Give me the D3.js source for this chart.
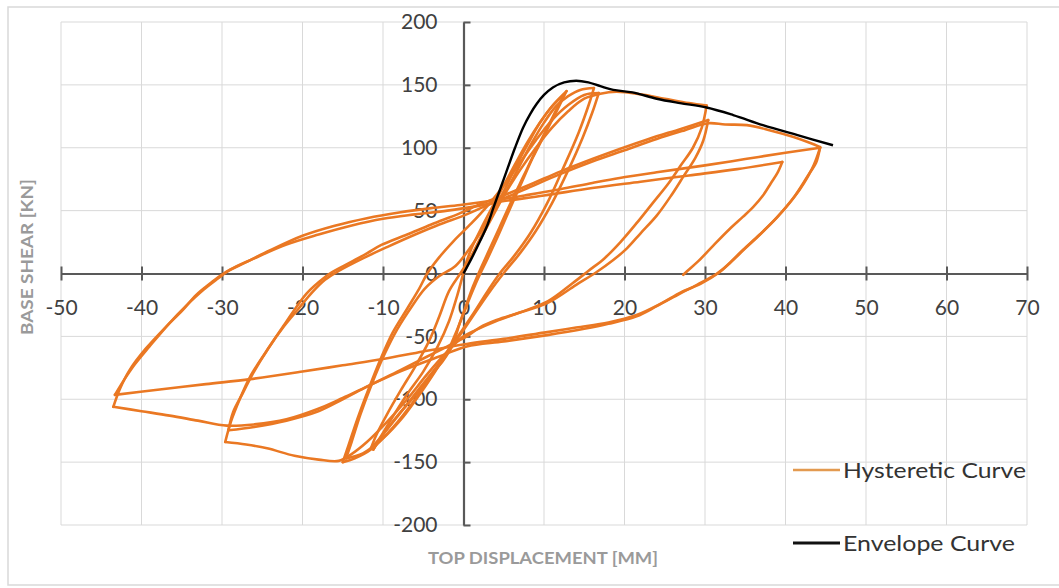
<!DOCTYPE html>
<html>
<head>
<meta charset="utf-8">
<script src="https://cdn.jsdelivr.net/npm/d3@7"></script>
<style>
  html, body { margin: 0; padding: 0; background: #fff; }
  svg { display: block; font-family: Lato, "Open Sans", sans-serif; }
</style>
</head>
<body>
<svg id="mainsvg" width="1059" height="588"></svg>
<script>
// axis ticks
const xTicks = [-50, -40, -30, -20, -10, 0, 10, 20, 30, 40, 50, 60, 70]
const yTicks = [-200, -150, -100, -50, 0, 50, 100, 150, 200]

// envelope curve [top displacement mm, base shear kN]
const envelope = [
  [0, 0], [1, 12], [2, 25], [3, 39], [3.7, 52], [5, 75], [6.4, 100], [7.4, 116], [8.3, 127],
  [9.1, 135], [10, 142], [11.1, 148], [12.5, 152], [14, 153.3], [15.5, 152], [17, 149],
  [18.6, 146], [21, 144], [24, 139], [26.9, 135.5], [30.2, 132], [33.5, 126], [37.2, 118],
  [41.5, 110], [45.9, 102]
]

// hysteretic curve, split by cycle amplitude
const cycles12 = [
  [0, 0], [1, 14], [2, 27], [3, 40], [4, 53], [5.2, 68], [6.5, 85], [8, 103], [9.5, 120], [11, 133], [12.8, 145],
  [12, 136], [10.5, 117], [9, 98], [7.5, 78], [6, 58], [4.5, 37], [3, 16], [2, 2], [1.2, -10], [0.4, -24],
  [-0.5, -40], [-1.3, -56], [-2.5, -69], [-4.2, -82], [-6, -97], [-8.3, -114], [-10, -128], [-11.2, -140],
  [-10.3, -130], [-8.8, -114], [-7, -96], [-5, -78], [-3.2, -58], [-1.8, -38], [-0.8, -18], [-0.2, -4],
  [0.3, 8], [1, 20], [2.2, 36], [3.5, 52], [5, 70], [6.5, 88], [8, 105], [9.5, 120], [11, 133], [12.6, 143],
  [11.8, 132], [10.2, 112], [8.6, 92], [7.2, 72], [5.8, 52], [4.3, 30], [3, 12], [1.8, -4], [1, -16], [0, -32],
  [-1, -48], [-2, -62], [-3.8, -78], [-5.8, -94], [-8, -112], [-10, -128], [-11.5, -139],
  [-10.8, -128], [-9.5, -112], [-7.8, -93], [-6, -74], [-4.3, -54], [-3, -34], [-1.8, -14], [-0.4, 0],
  [1, 14], [2.5, 32], [4, 50], [5.5, 68], [7, 86], [8.5, 104], [10, 120], [11.5, 133], [13, 141],
  [14.5, 146], [16.2, 147.5]
]

const cycles16 = [
  [15.6, 135], [14.3, 112], [12.4, 84], [10.4, 56], [8.3, 32], [6.3, 14], [4.5, 0], [3, -14], [1, -34],
  [-1, -53], [-3.5, -77], [-6, -100], [-8.7, -122], [-11.5, -140], [-13.5, -147], [-15, -150],
  [-14.3, -137], [-13.2, -116], [-11.8, -92], [-10.3, -68], [-8.8, -47], [-7, -28], [-5.5, -12], [-4.5, 0],
  [-3, 13], [-1.2, 26], [1, 40], [3, 54], [5, 70], [7, 88], [9, 106], [11, 122], [13, 134], [15, 142], [16.8, 143.5],
  [16, 128], [14.8, 108], [13, 82], [11, 56], [9, 34], [7, 16], [5.2, 2], [4, -8], [2, -26], [0, -45],
  [-2.5, -68], [-5, -92], [-7.5, -114], [-10, -131], [-12.5, -143], [-14.6, -147],
  [-13.9, -134], [-12.8, -112], [-11.4, -88], [-9.8, -64], [-8.2, -44], [-6.4, -26], [-4.8, -12], [-3, -2],
  [-1, 6], [1, 22], [3, 42], [5, 62], [7, 82], [9, 100], [11, 116], [13, 129], [15, 139], [17, 143]
]

const cycles30 = [
  [19, 144.5], [22, 142.5], [25, 139], [28, 135.5], [30.2, 133.5],
  [29.6, 116], [28.5, 100], [27, 86], [25.5, 72], [23.5, 56], [21.5, 40], [19.5, 25], [17.5, 12], [15.5, 2],
  [13.5, -8], [10.5, -22], [7, -31], [4, -38], [1.5, -45], [0, -50], [-2, -62], [-4.5, -80], [-7, -100],
  [-9.5, -118], [-12, -134], [-14, -144], [-15.5, -149], [-18, -148], [-21, -145], [-24.4, -139], [-27, -136], [-29.6, -134],
  [-28.9, -118], [-27.8, -100], [-26.5, -82], [-24.5, -62], [-22.4, -42], [-20.8, -27], [-19.5, -16], [-18, -7],
  [-16.6, 0], [-14, 9], [-12, 16], [-10.2, 22.7], [-7, 31], [-4, 39], [-0.4, 48], [2, 55], [3.7, 59], [8, 70],
  [12, 81], [16, 91], [19.4, 99], [23, 107], [27, 115], [30.4, 122],
  [29.8, 106], [28.8, 92], [27.4, 78], [25.8, 62], [24, 46], [22, 32], [20.3, 20], [18.6, 10.7], [16.5, 1],
  [14, -9], [10.4, -23.6], [7, -31], [4.1, -37], [2, -43], [0.4, -50], [-2, -58], [-4.5, -66], [-7.9, -77],
  [-12, -90], [-15, -100], [-18.2, -110], [-22, -117], [-26, -122], [-29.2, -124.7],
  [-28.6, -110], [-27.4, -95], [-26.2, -80], [-24.3, -60], [-22.3, -42], [-20.5, -28], [-18.8, -15], [-17.2, -5],
  [-15.5, 2], [-12.5, 12], [-9.5, 21], [-6, 31], [-3, 39], [0, 46], [2.5, 53], [4, 57], [8, 68], [12, 79],
  [16, 89], [20, 98], [24, 107], [27.5, 114], [30.4, 119.5],
  [32.5, 118.5], [35.2, 118], [38, 114], [41, 108.6], [43, 104], [44.3, 100.5]
]

const cycles44 = [
  [43.8, 88], [43, 80], [41.2, 62], [39, 45], [36.8, 31], [34.7, 18.7], [33, 8], [31.5, 0], [29, -9], [26.9, -16],
  [24, -26], [21.5, -34], [18, -40], [15, -44], [10.4, -49], [5, -54], [0.4, -58],
  [-3, -66], [-7.9, -78], [-12, -90], [-15, -99], [-18.2, -108], [-22, -116], [-26, -120], [-29.4, -121],
  [-33, -117], [-36.5, -113], [-40, -109.5], [-43.5, -106],
  [-42.7, -92], [-41.5, -77], [-39.5, -60], [-36.9, -42], [-35, -30], [-33.2, -17], [-31.5, -8], [-29.8, 0],
  [-27, 9], [-24, 18.5], [-20, 30], [-16, 38], [-12, 44], [-8, 48.5], [-4, 52], [-0.4, 54.5], [3.7, 58],
  [8, 62.5], [12, 67], [16, 72], [19.4, 76], [24, 80.5], [30, 86], [35, 91], [40, 96], [44.3, 100],
  [43.5, 86], [42.3, 72], [41, 60], [39, 45], [37, 32], [35, 20], [33.2, 9], [31.8, 1], [29.5, -8], [27, -15],
  [24.5, -24], [21.5, -33], [18, -39], [14, -43], [10, -47], [5, -52], [0.4, -56], [-5, -62], [-10, -68],
  [-15, -73], [-20, -78], [-26.5, -84], [-32, -88], [-38, -92.5], [-43.3, -96.5],
  [-42.2, -85], [-40.8, -72], [-39, -58], [-36.6, -40], [-34.5, -26], [-32.3, -13], [-30.5, -4], [-29, 3],
  [-26, 12], [-22, 23], [-18, 31], [-14, 38], [-10, 43.5], [-6, 47], [-2, 50], [2, 54], [4.5, 57], [10, 62],
  [16, 68], [22, 73], [28, 78], [34, 83], [39.6, 88.7],
  [39, 80], [38.2, 72], [37.2, 62], [36, 53], [34.7, 45], [33, 35], [31, 22], [29.2, 10], [27.8, 2], [27.3, -1]
]

const seriesNames = ['Hysteretic Curve', 'Envelope Curve']
const seriesColors = ['#EA7823', '#000000']

let width = 1059
let height = 588
let x = d3.scaleLinear().domain([-50, 70]).range([61, 1027])
let y = d3.scaleLinear().domain([-200, 200]).range([525, 22])

const svg = d3.select('#mainsvg')

// outer chart frame
svg.append('rect')
  .attr('x', 8).attr('y', 7)
  .attr('width', width).attr('height', 578)
  .attr('fill', '#fff')
  .attr('stroke', '#d9d9d9')
  .attr('stroke-width', 1.5)

// grid
const grid = svg.append('g')
grid.selectAll('.vgrid').data(xTicks).enter().append('line')
  .attr('x1', d => x(d)).attr('x2', d => x(d))
  .attr('y1', y(200)).attr('y2', y(-200))
  .attr('stroke', '#d9d9d9').attr('stroke-width', 1)
grid.selectAll('.hgrid').data(yTicks).enter().append('line')
  .attr('x1', x(-50)).attr('x2', x(70))
  .attr('y1', d => y(d)).attr('y2', d => y(d))
  .attr('stroke', '#d9d9d9').attr('stroke-width', 1)

// axes through the origin, ticks crossing the line
const xAxis = svg.append('g')
  .attr('transform', `translate(0,${y(0)})`)
  .call(d3.axisBottom(x).tickValues(xTicks).tickSize(7).tickSizeOuter(0).tickFormat(d3.format('d')))
xAxis.select('.domain').attr('stroke', '#595959').attr('stroke-width', 2.2)
xAxis.selectAll('.tick line').attr('y1', -7).attr('stroke', '#595959').attr('stroke-width', 2)
xAxis.selectAll('.tick text')
  .attr('y', 34).attr('dy', '0.35em')
  .attr('fill', '#404040')
  .style('font-size', '21px').style('font-family', 'Lato, "Open Sans", sans-serif')
  .text(d => d)

const yAxis = svg.append('g')
  .attr('transform', `translate(${x(0)},0)`)
  .call(d3.axisLeft(y).tickValues(yTicks).tickSize(7).tickSizeOuter(0).tickFormat(d3.format('d')))
yAxis.select('.domain').attr('stroke', '#595959').attr('stroke-width', 2.2)
yAxis.selectAll('.tick line').attr('x2', 7).attr('stroke', '#595959').attr('stroke-width', 2)
yAxis.selectAll('.tick text')
  .attr('x', -26)
  .attr('fill', '#404040')
  .style('font-size', '21px').style('font-family', 'Lato, "Open Sans", sans-serif')
  .text(d => d)

// axis titles
svg.append('text')
  .attr('transform', 'translate(27,257) rotate(-90)')
  .attr('text-anchor', 'middle').attr('dy', '0.35em')
  .attr('fill', '#9a9a9a')
  .attr('font-size', 17).attr('font-weight', 'bold')
  .attr('textLength', 156).attr('lengthAdjust', 'spacingAndGlyphs')
  .text('BASE SHEAR [KN]')

svg.append('text')
  .attr('x', 543).attr('y', 558)
  .attr('text-anchor', 'middle').attr('dy', '0.35em')
  .attr('fill', '#9a9a9a')
  .attr('font-size', 17).attr('font-weight', 'bold')
  .attr('textLength', 230).attr('lengthAdjust', 'spacingAndGlyphs')
  .text('TOP DISPLACEMENT [MM]')

// series
let line = d3.line()
  .x(d => x(d[0]))
  .y(d => y(d[1]))
  .curve(d3.curveCatmullRom.alpha(0.5))

// cut the hysteretic path at every load reversal so the peaks stay sharp
let hysteretic = cycles12.concat(cycles16, cycles30, cycles44)
let branches = []
let cur = [hysteretic[0]]
for (let i = 1; i < hysteretic.length; i++) {
  cur.push(hysteretic[i])
  if (i < hysteretic.length - 1) {
    let a = hysteretic[i][0] - hysteretic[i - 1][0]
    let b = hysteretic[i + 1][0] - hysteretic[i][0]
    if (a * b < 0) {
      branches.push(cur)
      cur = [hysteretic[i]]
    }
  }
}
branches.push(cur)

svg.append('g').selectAll('path')
  .data(branches).enter().append('path')
  .attr('d', line)
  .attr('fill', 'none')
  .attr('stroke', seriesColors[0])
  .attr('stroke-width', 2.6)
  .attr('stroke-linejoin', 'round')
  .attr('stroke-linecap', 'round')

svg.append('path')
  .datum(envelope)
  .attr('d', line)
  .attr('fill', 'none')
  .attr('stroke', seriesColors[1])
  .attr('stroke-width', 2.4)
  .attr('stroke-linejoin', 'round')

// legend
const legend = svg.append('g')
const legendY = [470, 543]
const legendLen = [183, 172]
seriesNames.forEach((name, i) => {
  legend.append('line')
    .attr('x1', 793).attr('x2', 840)
    .attr('y1', legendY[i]).attr('y2', legendY[i])
    .attr('stroke', i === 0 ? '#E39A50' : '#111')
    .attr('stroke-width', i === 0 ? 2.5 : 3)
  legend.append('text')
    .attr('x', 843).attr('y', legendY[i])
    .attr('dy', '0.35em')
    .attr('fill', '#333')
    .attr('font-size', 22)
    .attr('textLength', legendLen[i]).attr('lengthAdjust', 'spacingAndGlyphs')
    .text(name)
})
</script>
</body>
</html>
